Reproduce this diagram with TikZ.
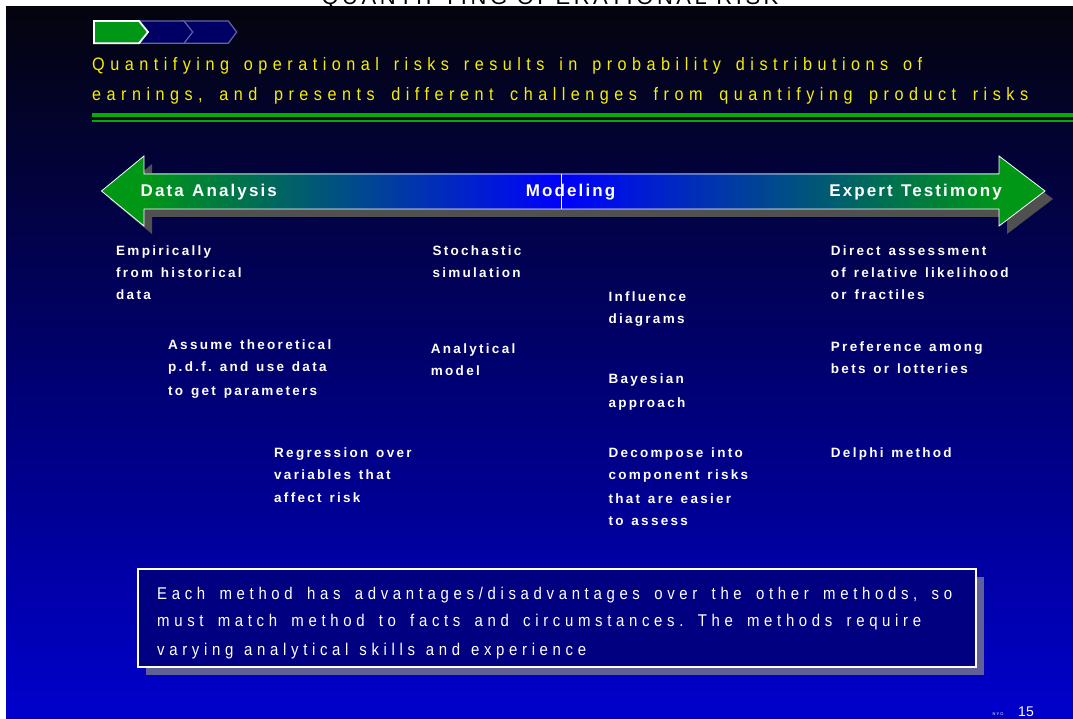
\documentclass[tikz,border=0pt]{standalone}
\usepackage{fontspec}
\setmainfont{Liberation Sans}
\newfontfamily\yfont[FakeStretch=0.9,LetterSpace=30.5]{Liberation Sans}
\newfontfamily\bfont[LetterSpace=17,WordSpace=1.3]{Liberation Sans}
\newfontfamily\afont[LetterSpace=12.5,WordSpace=1.2]{Liberation Sans}
\newfontfamily\wfont[FakeStretch=0.88,LetterSpace=27.4]{Liberation Sans}
\newfontfamily\tfont[LetterSpace=16]{Liberation Sans}
\frenchspacing
\definecolor{bgtop}{RGB}{4,4,14}
\definecolor{bgmid}{RGB}{0,0,110}
\definecolor{bgbot}{RGB}{0,0,205}
\definecolor{agreen}{RGB}{0,150,22}
\definecolor{ablue}{RGB}{0,0,255}
\definecolor{lgreen}{RGB}{0,175,0}
\definecolor{ytxt}{RGB}{245,240,0}
\definecolor{navy}{RGB}{0,0,100}
\definecolor{lav}{RGB}{100,100,165}
\definecolor{shadowgray}{RGB}{80,80,80}
\definecolor{boxfill}{RGB}{0,0,128}
\definecolor{boxshadow}{RGB}{96,96,150}
\tikzset{
  body/.style={anchor=base west, inner sep=0pt, text=white, font=\bfont\bfseries\fontsize{13.5}{16}\selectfont},
  arrowlbl/.style={inner sep=0pt, text=white, font=\afont\bfseries\fontsize{17}{20}\selectfont},
  ylbl/.style={anchor=base west, inner sep=0pt, text=ytxt, font=\yfont\frenchspacing\fontsize{18}{20}\selectfont},
  wlbl/.style={anchor=base west, inner sep=0pt, text=white, font=\wfont\frenchspacing\fontsize{17}{20}\selectfont},
}
\begin{document}
\begin{tikzpicture}[x=1pt,y=-1pt]
\useasboundingbox (0,0) rectangle (1073,719);
% background
\fill[white] (0,0) rectangle (1073,719);
\shade[top color=bgtop, bottom color=bgbot, middle color=bgmid] (6,6.5) rectangle (1073,719);
% clipped title
\begin{scope}
\clip (6,0) rectangle (1073,6.5);
\node[anchor=base, inner sep=0pt, font=\tfont\fontsize{22}{24}\selectfont, text=black] (title) at (550,5) {QUANTIFYING OPERATIONAL RISK};
\end{scope}
% chevrons
\filldraw[fill=navy, draw=lav, line width=1.2pt] (182,21) -- (228.3,21) -- (236.7,32) -- (228.3,43.3) -- (182,43.3) -- (190.5,32) -- cycle;
\filldraw[fill=navy, draw=lav, line width=1.2pt] (138,21) -- (184,21) -- (192.7,32) -- (184,43.3) -- (138,43.3) -- (146.5,32) -- cycle;
\filldraw[fill=agreen, draw=white, line width=1.8pt] (94,21) -- (139,21) -- (148,32) -- (139,43.3) -- (94,43.3) -- cycle;
% yellow heading
\node[ylbl] (h1) at (92,71) {\makebox[830pt][s]{Quantifying operational risks results in probability distributions of}};
\node[ylbl] (h2) at (92,101) {\makebox[936pt][s]{earnings, and presents different challenges from quantifying product risks}};
% green rules
\fill[lgreen] (92,113.3) rectangle (1073,116.7);
\fill[lgreen] (92,120) rectangle (1073,121.7);
% arrow shadow
\fill[shadowgray, shift={(8,8)}] (101.5,191) -- (144,156) -- (144,174) -- (999,174) -- (999,156) -- (1045,191) -- (999,226) -- (999,209) -- (144,209) -- (144,226) -- cycle;
% arrow body
\shade[left color=agreen, right color=ablue] (144,174) rectangle (561,209);
\shade[left color=ablue, right color=agreen] (561,174) rectangle (999,209);
\fill[agreen] (101.5,191) -- (144,156) -- (144,226) -- cycle;
\fill[agreen] (999,156) -- (1045,191) -- (999,226) -- cycle;
\draw[white, line width=0.8pt] (101.5,191) -- (144,156) -- (144,174) -- (999,174) -- (999,156) -- (1045,191) -- (999,226) -- (999,209) -- (144,209) -- (144,226) -- cycle;
\draw[white, line width=0.8pt] (561,174) -- (561,209);
\node[arrowlbl, anchor=base west] (da) at (140.5,196.7) {Data Analysis};
\node[arrowlbl, anchor=base] (mo) at (570.5,196.7) {Modeling};
\node[arrowlbl, anchor=base east] (et) at (1002,196.7) {Expert Testimony};
% column 1
\node[body] (e1) at (116,255.7) {Empirically};
\node[body] (e2) at (116,277.3) {from historical};
\node[body] (e3) at (116,299) {data};
\node[body] (a1) at (168,349.3) {Assume theoretical};
\node[body] (a2) at (168,371.3) {p.d.f. and use data};
\node[body] (a3) at (168,395.3) {to get parameters};
\node[body] (r1) at (274,457.3) {Regression over};
\node[body] (r2) at (274,479) {variables that};
\node[body] (r3) at (274,502.7) {affect risk};
% column 2
\node[body] (s1) at (432.3,255.3) {Stochastic};
\node[body] (s2) at (432.3,277) {simulation};
\node[body] (m1) at (430.7,353.7) {Analytical};
\node[body] (m2) at (430.7,375) {model};
% column 3
\node[body] (i1) at (608.3,301.3) {Influence};
\node[body] (i2) at (608.3,323) {diagrams};
\node[body] (b1) at (608.3,383.7) {Bayesian};
\node[body] (b2) at (608.3,407.3) {approach};
\node[body] (d1) at (608.3,457.3) {Decompose into};
\node[body] (d2) at (608.3,479.3) {component risks};
\node[body] (d3) at (608.3,503.3) {that are easier};
\node[body] (d4) at (608.3,525) {to assess};
% column 4
\node[body] (x1) at (830.7,255.3) {Direct assessment};
\node[body] (x2) at (830.7,277.3) {of relative likelihood};
\node[body] (x3) at (830.7,299) {or fractiles};
\node[body] (p1) at (830.7,351.3) {Preference among};
\node[body] (p2) at (830.7,373) {bets or lotteries};
\node[body] (q1) at (830.7,457.3) {Delphi method};
% bottom box
\fill[boxshadow] (146,577) rectangle (984,675);
\filldraw[fill=boxfill, draw=white, line width=1.6pt] (138,569) rectangle (976,666.7);
\node[wlbl] (w1) at (157,599) {\makebox[795pt][s]{Each method has advantages/disadvantages over the other methods, so}};
\node[wlbl] (w2) at (157,626.7) {\makebox[764pt][s]{must match method to facts and circumstances. The methods require}};
\node[wlbl] (w3) at (157,655.7) {\makebox[429pt][s]{varying analytical skills and experience}};
% page number
\node[anchor=base, inner sep=0pt, text=white, font=\fontsize{4}{5}\selectfont] (nyo) at (998,715.5) {N Y O};
\node[anchor=base, inner sep=0pt, text=white, font=\fontsize{14}{16}\selectfont] (pg) at (1026,716) {15};
\end{tikzpicture}
\end{document}
